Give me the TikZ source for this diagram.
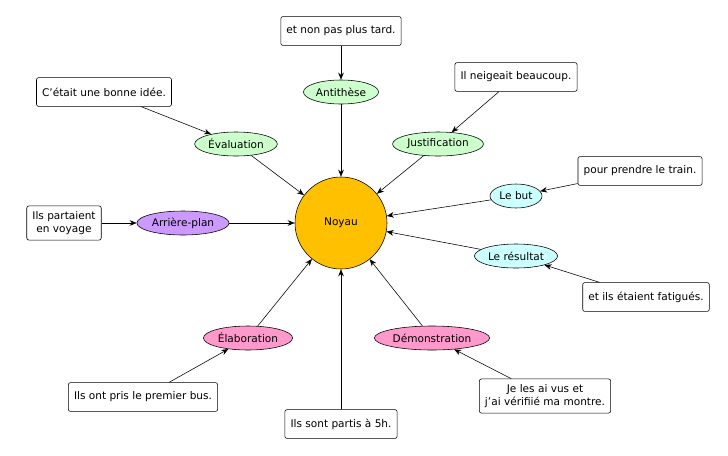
\documentclass[tikz,border=0pt]{standalone}
\usepackage{fontspec}
\setmainfont{DejaVu Sans}
\usetikzlibrary{arrows.meta,shapes.geometric}
\definecolor{core}{HTML}{FFC000}
\definecolor{green}{HTML}{CCFFCC}
\definecolor{cyan}{HTML}{CCFFFF}
\definecolor{purple}{HTML}{CC99FF}
\definecolor{pink}{HTML}{FF99CC}
\begin{document}
\begin{tikzpicture}[x=0.025cm,y=-0.025cm,font=\fontsize{7.5}{9}\selectfont,
  >={Stealth[length=5pt,width=4pt]}]
  \tikzstyle{rel}=[ellipse, draw=black, inner sep=1pt, minimum height=0.6cm, minimum width=1.75cm]
  \tikzstyle{txt}=[rectangle, rounded corners=1.5pt, draw=black, fill=white, align=center, inner sep=4pt, minimum height=0.72cm]
  \useasboundingbox (0,0) rectangle (728,455);

  % Core
  \node[circle, draw=black, fill=core, minimum size=2.3cm] (noyau) at (341,223) {Noyau};

  % Relations
  \node[rel, fill=green] (anti) at (341,92) {Antithèse};
  \node[rel, fill=green] (eval) at (236,144) {Évaluation};
  \node[rel, fill=green] (just) at (438,144) {Justification};
  \node[rel, fill=cyan, minimum width=1.3cm] (but) at (516,196) {Le but};
  \node[rel, fill=cyan] (res) at (516,256) {Le résultat};
  \node[rel, fill=purple, minimum width=2.1cm] (arr) at (183,223) {Arrière-plan};
  \node[rel, fill=pink, minimum width=2cm] (elab) at (248,338) {Élaboration};
  \node[rel, fill=pink, minimum width=2.4cm] (demo) at (432,338) {Démonstration};

  % Texts
  \node[txt] (t_anti) at (341,31) {et non pas plus tard.};
  \node[txt] (t_eval) at (104,92) {C'était une bonne idée.};
  \node[txt] (t_just) at (516,77) {Il neigeait beaucoup.};
  \node[txt] (t_but) at (640,171) {pour prendre le train.};
  \node[txt] (t_res) at (646,297) {et ils étaient fatigués.};
  \node[txt] (t_arr) at (64,223) {Ils partaient\\en voyage};
  \node[txt] (t_elab) at (143,397) {Ils ont pris le premier bus.};
  \node[txt] (t_demo) at (545,396) {Je les ai vus et\\j'ai vérifiié ma montre.};
  \node[txt] (t_noy) at (341,424) {Ils sont partis à 5h.};

  % Arrows
  \foreach \r in {anti,eval,just,but,res,arr,elab,demo}
  \draw[->] (t_\r) -- (\r);
  \foreach \r in {anti,eval,just,but,res,arr,elab,demo,t_noy}
  \draw[->] (\r) -- (noyau);
\end{tikzpicture}
\end{document}
